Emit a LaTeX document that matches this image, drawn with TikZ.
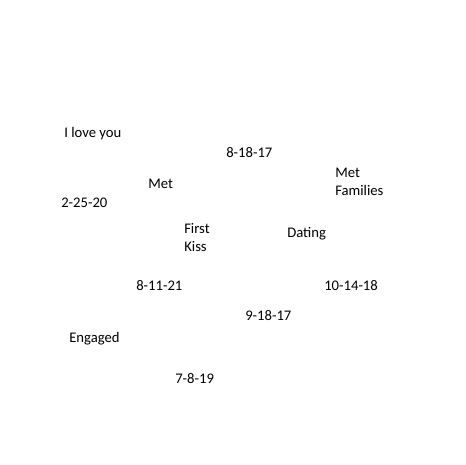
\documentclass[tikz,border=0pt]{standalone}
\usepackage{fontspec}
\setmainfont{Carlito}
\begin{document}
\begin{tikzpicture}[x=0.75pt,y=-0.75pt]
% Set the page size
\useasboundingbox[fill=white] (0,0) rectangle (465,465);
\tikzset{word/.style={anchor=base west, inner sep=0pt, align=left, font=\fontsize{11pt}{13.5pt}\selectfont}}

% Place the words and dates (two-line nodes sit on their last line)
\node[word] (loveyou) at (64,137) {I love you};
\node[word] (dateA) at (226,157) {8-18-17};
\node[word] (met) at (148,188) {Met};
\node[word] (dateB) at (61,207) {2-25-20};
\node[word] (families) at (335,195) {Met\\Families};
\node[word] (kiss) at (184,251) {First\\Kiss};
\node[word] (dating) at (287,237) {Dating};
\node[word] (dateC) at (136,290) {8-11-21};
\node[word] (dateD) at (324,290) {10-14-18};
\node[word] (dateE) at (245,320) {9-18-17};
\node[word] (engaged) at (69,342) {Engaged};
\node[word] (dateF) at (175,383) {7-8-19};
\end{tikzpicture}
\end{document}
